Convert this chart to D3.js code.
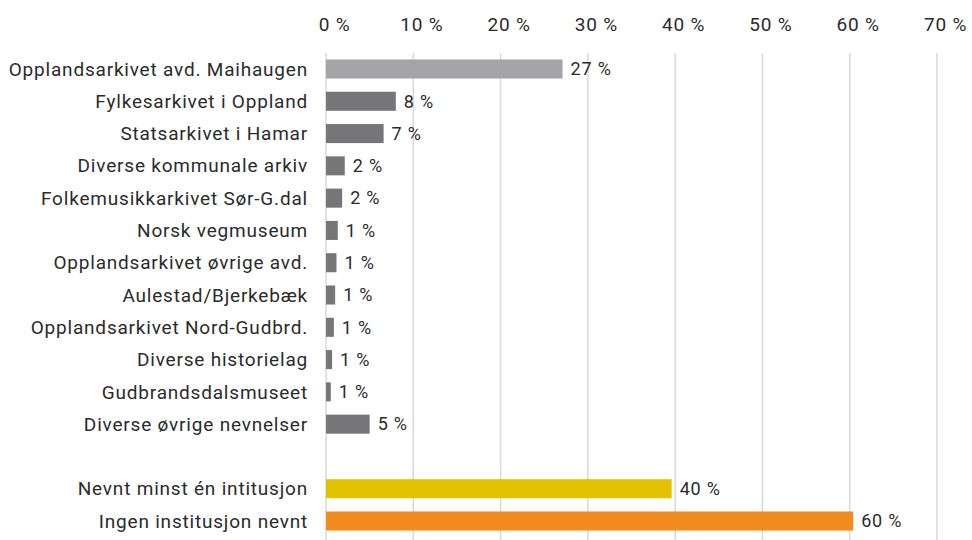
<!DOCTYPE html>
<html lang="no">
<head>
    <meta charset="UTF-8">
    <title>Institusjoner nevnt</title>
    <script src="https://cdn.jsdelivr.net/npm/d3@7"></script>
    <style>
        body { margin: 0; background: #fff; }
        svg text { font-family: Roboto, "Liberation Sans", sans-serif; fill: #2b2b2b; letter-spacing: 0.8px; }
    </style>
</head>
<body>
<div id="chart"></div>
<script>
    // Data (percent)
    const categories = [
        "Opplandsarkivet avd. Maihaugen",
        "Fylkesarkivet i Oppland",
        "Statsarkivet i Hamar",
        "Diverse kommunale arkiv",
        "Folkemusikkarkivet Sør-G.dal",
        "Norsk vegmuseum",
        "Opplandsarkivet øvrige avd.",
        "Aulestad/Bjerkebæk",
        "Opplandsarkivet Nord-Gudbrd.",
        "Diverse historielag",
        "Gudbrandsdalsmuseet",
        "Diverse øvrige nevnelser",
        "",
        "Nevnt minst én intitusjon",
        "Ingen institusjon nevnt"
    ];
    const values = [27.1, 8.0, 6.6, 2.15, 1.85, 1.35, 1.2, 1.05, 0.9, 0.7, 0.55, 5.0, null, 39.6, 60.4];
    const valueLabels = ["27 %", "8 %", "7 %", "2 %", "2 %", "1 %", "1 %", "1 %", "1 %", "1 %", "1 %", "5 %", "", "40 %", "60 %"];
    const barColors = ["#a5a5a7", "#767678", "#767678", "#767678", "#767678", "#767678", "#767678",
                       "#767678", "#767678", "#767678", "#767678", "#767678", "none", "#e3c200", "#f28c1e"];
    const xTicks = [0, 10, 20, 30, 40, 50, 60, 70];

    const width = 972, height = 540;

    const svg = d3.select("#chart").append("svg")
        .attr("width", width)
        .attr("height", height);

    const x = d3.scaleLinear().domain([0, 70]).range([326, 937]);
    const y = d3.scaleBand()
        .domain(categories.map((c, i) => i))
        .range([53, 537])
        .paddingInner(0.41)
        .paddingOuter(0.2);

    // gridlines
    svg.append("g")
        .selectAll("line")
        .data(xTicks)
        .enter().append("line")
        .attr("x1", d => x(d)).attr("x2", d => x(d))
        .attr("y1", 53).attr("y2", height)
        .attr("stroke", "#d9d9d9")
        .attr("stroke-width", 1.5);

    // top axis labels (sit a little right of their gridline, as in the original)
    const xAxis = d3.axisTop(x)
        .tickValues(xTicks)
        .tickSize(0)
        .tickPadding(0)
        .tickFormat(d => d + " %");
    const gx = svg.append("g")
        .attr("transform", "translate(8,31)")
        .call(xAxis);
    gx.select(".domain").remove();
    gx.selectAll("text")
        .attr("font-size", 19)
        .style("font-family", "Roboto, sans-serif")
        .attr("fill", "#2b2b2b");

    const rows = categories.map((c, i) => ({ c, i, v: values[i], lab: valueLabels[i], col: barColors[i] }));

    // bars
    svg.append("g")
        .selectAll("rect")
        .data(rows.filter(d => d.v !== null))
        .enter().append("rect")
        .attr("x", x(0))
        .attr("y", d => y(d.i))
        .attr("width", d => x(d.v) - x(0))
        .attr("height", y.bandwidth())
        .attr("fill", d => d.col);

    // category labels
    svg.append("g")
        .selectAll("text")
        .data(rows)
        .enter().append("text")
        .attr("x", 308)
        .attr("y", d => y(d.i) + y.bandwidth() / 2)
        .attr("dy", "0.35em")
        .attr("text-anchor", "end")
        .attr("font-size", 19)
        .text(d => d.c);

    // value labels
    svg.append("g")
        .selectAll("text")
        .data(rows.filter(d => d.v !== null))
        .enter().append("text")
        .attr("x", d => x(d.v) + 8)
        .attr("y", d => y(d.i) + y.bandwidth() / 2)
        .attr("dy", "0.35em")
        .attr("font-size", 18)
        .text(d => d.lab);
</script>
</body>
</html>
